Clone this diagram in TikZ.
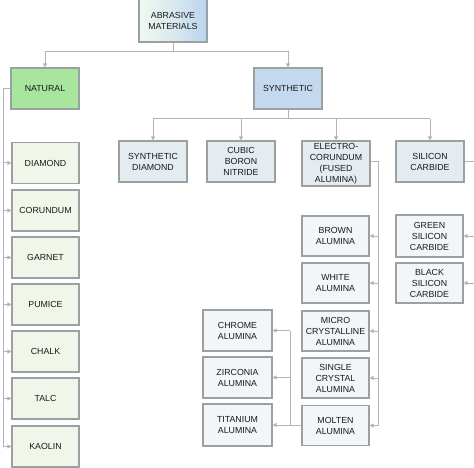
\documentclass[tikz,border=0pt]{standalone}
\usepackage{fontspec}
\setmainfont{Liberation Sans}
\usetikzlibrary{arrows.meta}
\definecolor{bordc}{RGB}{155,160,160}
\definecolor{linec}{RGB}{180,180,180}
\definecolor{natg}{RGB}{168,230,160}
\definecolor{synb}{RGB}{197,217,238}
\definecolor{synch}{RGB}{228,236,242}
\definecolor{natch}{RGB}{240,247,234}
\definecolor{subch}{RGB}{243,246,249}
\definecolor{abrl}{RGB}{240,248,240}
\definecolor{abrr}{RGB}{185,212,238}
\tikzset{
  box/.style={draw=bordc, line width=1.1pt, align=center, inner sep=1pt,
    font=\fontsize{8.8}{11}\selectfont, text=black!90},
  natbox/.style={box, fill=natch, minimum width=67pt, minimum height=41pt},
  synbox/.style={box, fill=synch, minimum width=68pt, minimum height=41pt},
  subbox/.style={box, fill=subch, minimum width=67pt, minimum height=40pt},
  ln/.style={draw=linec, line width=1pt},
  arr/.style={ln, -{Triangle[length=4pt,width=4pt]}},
}
\begin{document}
\begin{tikzpicture}[x=1pt,y=-1pt]
\useasboundingbox (0,0) rectangle (474,468);
% top
\node[box, left color=abrl, right color=abrr, middle color=abrl!60!abrr,
      minimum width=68pt, minimum height=43pt] (abr) at (173,20.5) {ABRASIVE\\MATERIALS};
\node[box, fill=natg, minimum width=68pt, minimum height=41pt] (nat) at (45,88.5) {NATURAL};
\node[box, fill=synb, minimum width=68pt, minimum height=41pt] (syn) at (288,88.5) {SYNTHETIC};
% natural children
\node[natbox] (n1) at (45.5,163) {DIAMOND};
\node[natbox] (n2) at (45.5,210.5) {CORUNDUM};
\node[natbox] (n3) at (45.5,257.5) {GARNET};
\node[natbox] (n4) at (45.5,304.5) {PUMICE};
\node[natbox] (n5) at (45.5,351.5) {CHALK};
\node[natbox] (n6) at (45.5,398.5) {TALC};
\node[natbox] (n7) at (45.5,446.5) {KAOLIN};
% synthetic children
\node[synbox] (sd) at (153,161.5) {SYNTHETIC\\DIAMOND};
\node[synbox] (cbn) at (241,161.5) {CUBIC\\BORON\\NITRIDE};
\node[synbox, minimum height=45pt] (ec) at (336,163.5) {ELECTRO-\\CORUNDUM\\(FUSED\\ALUMINA)};
\node[synbox] (sic) at (430,161.5) {SILICON\\CARBIDE};
% alumina
\node[subbox] (a1) at (335.5,236) {BROWN\\ALUMINA};
\node[subbox] (a2) at (335.5,283) {WHITE\\ALUMINA};
\node[subbox] (a3) at (335.5,331) {MICRO\\CRYSTALLINE\\ALUMINA};
\node[subbox] (a4) at (335.5,378) {SINGLE\\CRYSTAL\\ALUMINA};
\node[subbox] (a5) at (335.5,425.5) {MOLTEN\\ALUMINA};
% molten variants
\node[subbox, minimum width=69pt, minimum height=41pt] (m1) at (237.5,330.5) {CHROME\\ALUMINA};
\node[subbox, minimum width=69pt, minimum height=41pt] (m2) at (237.5,377.5) {ZIRCONIA\\ALUMINA};
\node[subbox, minimum width=69pt, minimum height=42pt] (m3) at (237.5,425) {TITANIUM\\ALUMINA};
% silicon carbide
\node[subbox, minimum height=42pt] (s1) at (429.5,236) {GREEN\\SILICON\\CARBIDE};
\node[subbox] (s2) at (429.5,283) {BLACK\\SILICON\\CARBIDE};
% connectors: top
\coordinate (topj) at (173,52);
\draw[ln] (abr.south) -- (topj);
\draw[arr] (topj) -- (45,52) -- (nat.north);
\draw[arr] (topj) -- (288,52) -- (syn.north);
% natural
\coordinate (nb) at (3,88.5);
\coordinate (nbe) at (3,446.5);
\draw[ln] (nat.west) -- (nb) -- (nbe);
\foreach \n in {n1,n2,n3,n4,n5,n6,n7}{\draw[arr] (nb |- \n.west) -- (\n.west);}
% synthetic
\coordinate (sb) at (288,119);
\coordinate (sbl) at (153,119);
\coordinate (sbr) at (430,119);
\draw[ln] (syn.south) -- (sb);
\draw[ln] (sbl) -- (sbr);
\foreach \n in {sd,cbn,ec,sic}{\draw[arr] (sbl -| \n.north) -- (\n.north);}
% electro-corundum
\coordinate (eb) at (378.5,162);
\coordinate (ebe) at (378.5,425.5);
\draw[ln] (ec.east |- eb) -- (eb) -- (ebe);
\foreach \n in {a1,a2,a3,a4,a5}{\draw[arr] (eb |- \n.east) -- (\n.east);}
% silicon carbide
\coordinate (cb) at (475,161.5);
\coordinate (cbe) at (475,283);
\draw[ln] (sic.east) -- (cb) -- (cbe);
\foreach \n in {s1,s2}{\draw[arr] (cb |- \n.east) -- (\n.east);}
% molten
\coordinate (mb) at (290,425);
\coordinate (mbt) at (290,330.5);
\draw[arr] (a5.west |- mb) -- (m3.east |- mb);
\draw[ln] (mb) -- (mbt);
\foreach \n in {m1,m2}{\draw[arr] (mb |- \n.east) -- (\n.east);}
\end{tikzpicture}
\end{document}
